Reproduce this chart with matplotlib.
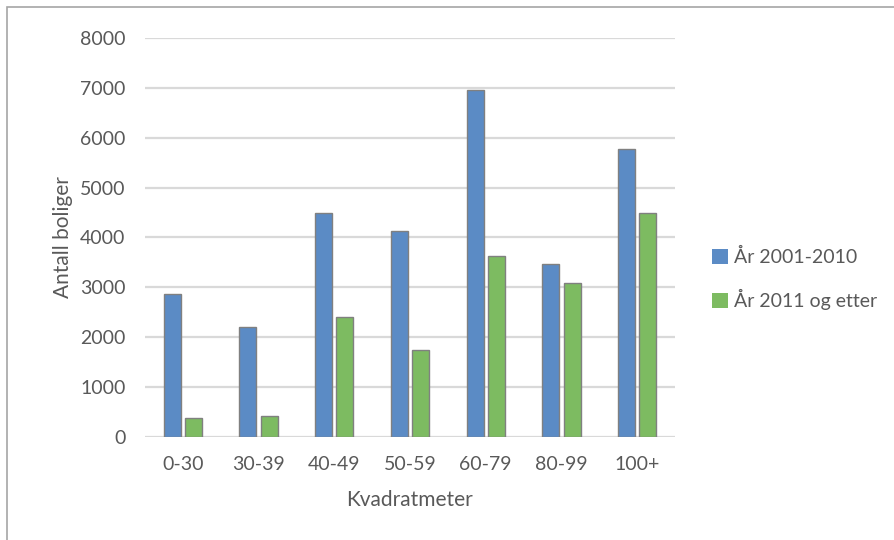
import matplotlib
matplotlib.use("Agg")
import matplotlib.pyplot as plt
from matplotlib.patches import Rectangle, Patch
import numpy as np

categories = ["0-30", "30-39", "40-49", "50-59", "60-79", "80-99", "100+"]
series_names = ["År 2001-2010", "År 2011 og etter"]
values_2001_2010 = [2870, 2210, 4490, 4130, 6960, 3470, 5770]
values_2011_etter = [380, 430, 2410, 1750, 3630, 3090, 4500]
y_ticks = [0, 1000, 2000, 3000, 4000, 5000, 6000, 7000, 8000]

blue = "#5b8bc5"
green = "#7dbb61"
text_col = "#595959"

plt.rcParams["font.family"] = ["Lato", "DejaVu Sans"]

fig = plt.figure(figsize=(8.95, 5.4), dpi=100)
fig.patch.set_facecolor("white")

# outer chart frame
fig.add_artist(Rectangle((7 / 895, -0.05), 1.0, 1 - 7 / 540 + 0.05,
                         transform=fig.transFigure, fill=False,
                         edgecolor="#a6a6a6", linewidth=1.2))

ax = fig.add_axes([145 / 895, 1 - 437 / 540, 530 / 895, 399 / 540])
x = np.arange(len(categories))
w = 0.225
off = 0.14
ax.bar(x - off, values_2001_2010, width=w, color=blue, edgecolor="#808080",
       linewidth=1.0, zorder=3)
ax.bar(x + off, values_2011_etter, width=w, color=green, edgecolor="#808080",
       linewidth=1.0, zorder=3)

ax.set_xlim(-0.5, 6.5)
ax.set_ylim(0, 8000)
ax.set_yticks(y_ticks)
ax.set_yticklabels([str(t) for t in y_ticks])
ax.set_xticks(x)
ax.set_xticklabels(categories)
ax.grid(axis="y", color="#d9d9d9", linewidth=1.6, zorder=0)
ax.set_axisbelow(True)
for s in ax.spines.values():
    s.set_visible(False)
ax.tick_params(axis="both", length=0, labelsize=14, colors=text_col)
ax.tick_params(axis="y", pad=14)
ax.tick_params(axis="x", pad=14)
ax.set_xlabel("Kvadratmeter", fontsize=15, color=text_col, labelpad=12)
ax.set_ylabel("Antall boliger", fontsize=15, color=text_col, labelpad=5)

handles = [Patch(facecolor=blue, edgecolor="none"),
           Patch(facecolor=green, edgecolor="none")]
fig.legend(handles, series_names, loc="center left",
           bbox_to_anchor=(695 / 895, 1 - 279 / 540), frameon=False,
           fontsize=14, labelcolor=text_col, handlelength=0.8,
           handleheight=0.8, handletextpad=0.3, labelspacing=1.2)

fig.savefig("out.png", dpi=100)
